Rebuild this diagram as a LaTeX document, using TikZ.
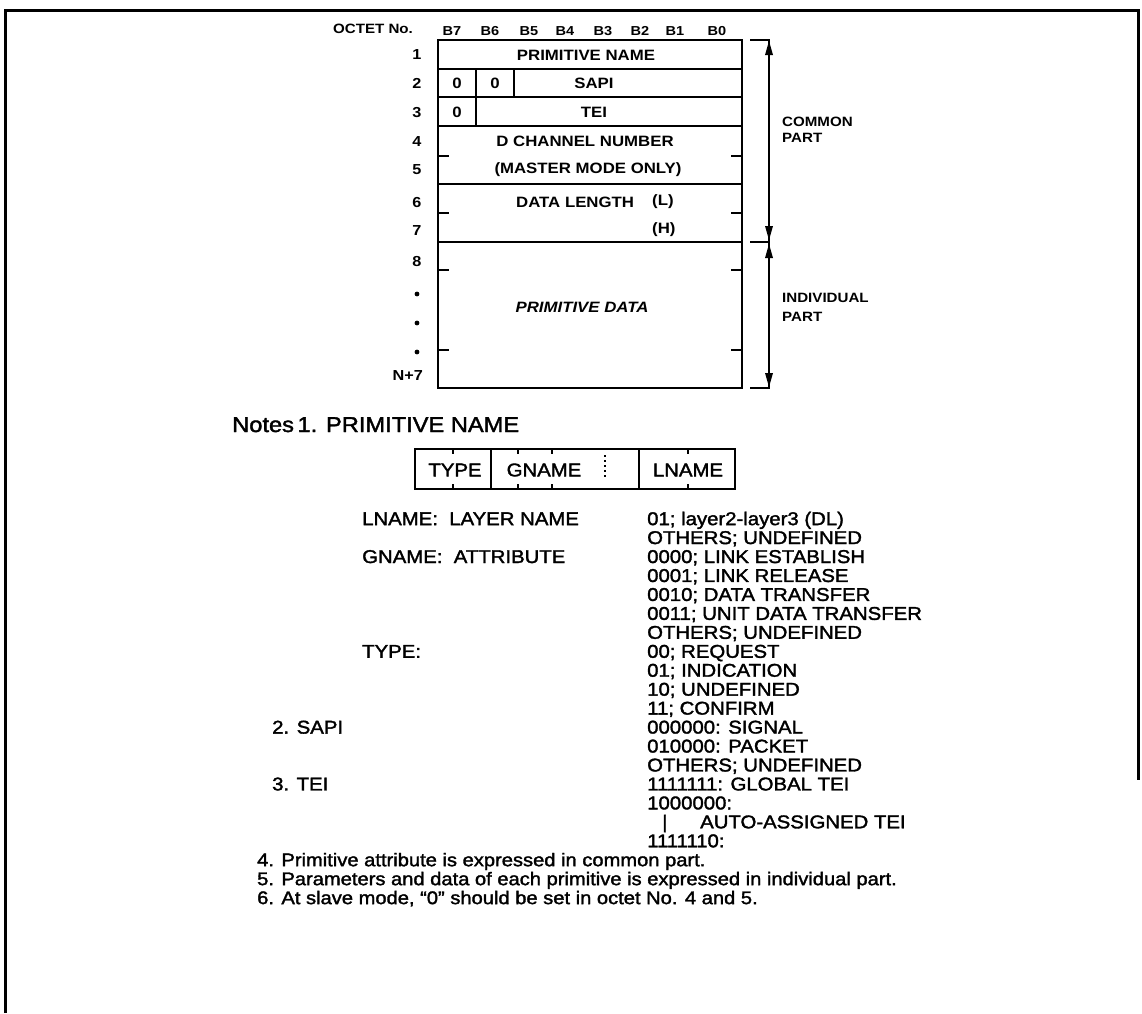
\documentclass[tikz,border=0pt]{standalone}
\usepackage{fontspec}
\setmainfont{Liberation Sans}[FakeStretch=1.12]
\newfontfamily\notefont{Liberation Sans}[FakeStretch=1.1, FakeBold=1.8]
\begin{document}
\begin{tikzpicture}[x=1pt,y=-1pt,
  tbl/.style={font=\fontsize{15}{17}\selectfont\bfseries, inner sep=0pt},
  hdr/.style={font=\fontsize{13}{15}\selectfont\bfseries, inner sep=0pt},
  oct/.style={font=\fontsize{14.5}{16}\selectfont\bfseries, inner sep=0pt},
  note/.style={font=\notefont\fontsize{18.5}{20}\selectfont, inner sep=0pt, anchor=base west},
  boxline/.style={line width=1.8pt},
  tick/.style={line width=1.4pt}]
\useasboundingbox (0,0) rectangle (1142,1013);
% outer frame
\draw[line width=3pt] (5,1013) -- (5,10) -- (1138,10) -- (1138,780);

% column headings
\node[hdr, font=\fontsize{13.5}{15}\selectfont\bfseries] (oc) at (373,29) {OCTET No.};
\foreach \x/\b in {452/B7,490/B6,529/B5,565/B4,603/B3,640/B2,675/B1,717/B0}
  \node[hdr] (h\b) at (\x,31) {\b};

% table
\draw[boxline] (438,40) rectangle (742,388);
\foreach \y in {69,97,126,184,242} \draw[boxline] (438,\y) -- (742,\y);
\draw[boxline] (476,69) -- (476,126);
\draw[boxline] (514,69) -- (514,97);
\foreach \y in {156,213,270,350} {
  \draw[tick] (438,\y) -- (449,\y);
  \draw[tick] (731,\y) -- (742,\y);
}
\node[tbl] (pn) at (586,55) {PRIMITIVE NAME};
\node[tbl] (z1) at (457,83) {0};
\node[tbl] (z2) at (495,83) {0};
\node[tbl] (sapi) at (594,83) {SAPI};
\node[tbl] (z3) at (457,112) {0};
\node[tbl] (tei) at (594,112) {TEI};
\node[tbl] (dch) at (585,141) {D CHANNEL NUMBER};
\node[tbl] (mm) at (588,170) {(MASTER MODE ONLY)};
\node[tbl, anchor=west] (dl) at (516,202) {DATA LENGTH};
\node[tbl, anchor=west] (dll) at (652,202) {(L)};
\node[tbl, anchor=west] (dlh) at (652,230) {(H)};
\node[tbl, font=\fontsize{15}{17}\selectfont\bfseries\itshape] (pd) at (582,307) {PRIMITIVE DATA};

% octet numbers
\foreach \y/\n in {55/1,83/2,113/3,142/4,170/5,203/6,231/7,261/8}
  \node[oct] (o\n) at (417,\y) {\n};
\foreach \y/\n in {294/a,323/b,352/c}
  \fill (417,\y) circle (2.4) coordinate (d\n);
\node[oct, anchor=east] (on) at (423,376) {N+7};

% brackets and arrows
\draw[line width=1.6pt] (750,40) -- (769,40) -- (769,388) -- (750,388);
\draw[line width=1.6pt] (750,242) -- (769,242);
\fill (769,41) -- (765,55) -- (773,55) -- cycle;
\fill (769,240) -- (765,226) -- (773,226) -- cycle;
\fill (769,244) -- (765,258) -- (773,258) -- cycle;
\fill (769,387) -- (765,373) -- (773,373) -- cycle;
\node[hdr, font=\fontsize{13.5}{15}\selectfont\bfseries, anchor=west] (cp1) at (782,122) {COMMON};
\node[hdr, font=\fontsize{13.5}{15}\selectfont\bfseries, anchor=west] (cp2) at (782,138) {PART};
\node[hdr, font=\fontsize{13.5}{15}\selectfont\bfseries, anchor=west] (ip1) at (782,298) {INDIVIDUAL};
\node[hdr, font=\fontsize{13.5}{15}\selectfont\bfseries, anchor=west] (ip2) at (782,317) {PART};

% notes
\node[note, font=\notefont\fontsize{21.5}{23}\selectfont] (n1) at (232,432) {Notes\,1. PRIMITIVE NAME};
\draw[boxline] (415,449) rectangle (735,489);
\draw[boxline] (491,449) -- (491,489);
\draw[boxline] (639,449) -- (639,489);
\foreach \x in {453,518,552,688} {
  \draw[tick] (\x,449) -- (\x,454);
  \draw[tick] (\x,489) -- (\x,484);
}
\draw[line width=1.2pt, dash pattern=on 2pt off 3pt] (605,455) -- (605,478);
\node[note, anchor=center] (ty) at (455,470) {TYPE};
\node[note, anchor=center] (gn) at (544,470) {GNAME};
\node[note, anchor=center] (ln) at (688,470) {LNAME};

\node[note] (l0) at (362,525.1) {LNAME:\ \ LAYER NAME};
\node[note] (l2) at (362,563.0) {GNAME:\ \ ATTRIBUTE};
\node[note] (l7) at (362,657.8) {TYPE:};
\node[note] (l11) at (272,733.6) {2. SAPI};
\node[note] (l14) at (272,790.4) {3. TEI};

\foreach \i/\t in {0/{01; layer2-layer3 (DL)},1/{OTHERS; UNDEFINED},
  2/{0000; LINK ESTABLISH},3/{0001; LINK RELEASE},4/{0010; DATA TRANSFER},
  5/{0011; UNIT DATA TRANSFER},6/{OTHERS; UNDEFINED},7/{00; REQUEST},
  8/{01; INDICATION},9/{10; UNDEFINED},10/{11; CONFIRM},
  11/{000000: SIGNAL},12/{010000: PACKET},13/{OTHERS; UNDEFINED},
  14/{1111111: GLOBAL TEI},15/{1000000:},17/{1111110:}}
  \node[note] (r\i) at (647,{525.1+18.95*\i}) {\t};
\node[note] (bar) at (662,{525.1+18.95*16}) {|};
\node[note] (r16) at (700,{525.1+18.95*16}) {AUTO-ASSIGNED TEI};

\node[note, font=\notefont\fontsize{18.3}{20}\selectfont] (n4) at (257,{525.1+18.95*18}) {4. Primitive attribute is expressed in common part.};
\node[note, font=\notefont\fontsize{18.3}{20}\selectfont] (n5) at (257,{525.1+18.95*19}) {5. Parameters and data of each primitive is expressed in individual part.};
\node[note, font=\notefont\fontsize{18.3}{20}\selectfont] (n6) at (257,{525.1+18.95*20}) {6. At slave mode, “0” should be set in octet No. 4 and 5.};
\end{tikzpicture}
\end{document}
